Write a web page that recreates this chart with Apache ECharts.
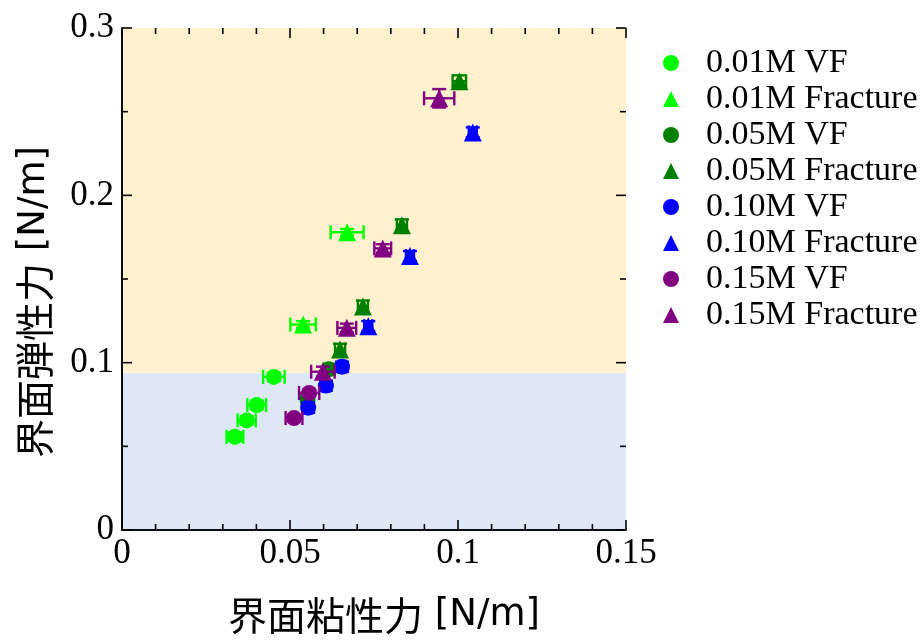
<!DOCTYPE html>
<html>
<head>
<meta charset="utf-8">
<script src="https://cdn.jsdelivr.net/npm/echarts@6/dist/echarts.min.js"></script>
<style>html,body{margin:0;padding:0;background:#fff;}#c{width:924px;height:641px;}</style>
</head>
<body>
<div id="c"></div>
<script>
// ---- data ----
const seriesNames = ['0.01M VF','0.01M Fracture','0.05M VF','0.05M Fracture','0.10M VF','0.10M Fracture','0.15M VF','0.15M Fracture'];
const seriesColors = ['#00FF00','#00FF00','#008000','#008000','#0000FF','#0000FF','#800080','#800080'];
const seriesSymbols = ['circle','triangle','circle','triangle','circle','triangle','circle','triangle'];

const x01VF = [0.0336, 0.0371, 0.0401, 0.0452];
const y01VF = [0.0557, 0.0655, 0.0747, 0.0915];
const xe01VF = [0.0025, 0.0027, 0.0028, 0.0032];
const ye01VF = [0.0025, 0.0025, 0.0025, 0.0025];

const x01F = [0.0539, 0.0670];
const y01F = [0.1228, 0.1779];
const xe01F = [0.0038, 0.0049];
const ye01F = [0.0020, 0.0020];

const x05VF = [0.0552, 0.0615];
const y05VF = [0.0780, 0.0960];
const xe05VF = [0.0015, 0.0015];
const ye05VF = [0.0025, 0.0025];

const x05F = [0.0649, 0.0717, 0.0833, 0.1004];
const y05F = [0.1078, 0.1336, 0.1821, 0.2682];
const xe05F = [0.0015, 0.0015, 0.0015, 0.0020];
const ye05F = [0.0035, 0.0035, 0.0035, 0.0035];

const x10VF = [0.0554, 0.0607, 0.0655];
const y10VF = [0.0731, 0.0863, 0.0976];
const xe10VF = [0.0012, 0.0012, 0.0012];
const ye10VF = [0.0030, 0.0030, 0.0030];

const x10F = [0.0733, 0.0857, 0.1044];
const y10F = [0.1218, 0.1637, 0.2376];
const xe10F = [0.0012, 0.0012, 0.0012];
const ye10F = [0.0030, 0.0030, 0.0030];

const x15VF = [0.0512, 0.0557];
const y15VF = [0.0669, 0.0819];
const xe15VF = [0.0025, 0.0030];
const ye15VF = [0.0020, 0.0020];

const x15F = [0.0598, 0.0669, 0.0776, 0.0944];
const y15F = [0.0946, 0.1208, 0.1683, 0.2580];
const xe15F = [0.0035, 0.0028, 0.0025, 0.0045];
const ye15F = [0.0030, 0.0025, 0.0025, 0.0055];

const xAll = [x01VF, x01F, x05VF, x05F, x10VF, x10F, x15VF, x15F];
const yAll = [y01VF, y01F, y05VF, y05F, y10VF, y10F, y15VF, y15F];
const xeAll = [xe01VF, xe01F, xe05VF, xe05F, xe10VF, xe10F, xe15VF, xe15F];
const yeAll = [ye01VF, ye01F, ye05VF, ye05F, ye10VF, ye10F, ye15VF, ye15F];

// tick values
const xMajorTicks = [0, 0.05, 0.1, 0.15];
const xMinorTicks = [0.01, 0.02, 0.03, 0.04, 0.06, 0.07, 0.08, 0.09, 0.11, 0.12, 0.13, 0.14];
const yMajorTicks = [0, 0.1, 0.2, 0.3];
const yMinorTicks = [0.05, 0.15, 0.25];

const blueBandTop = 0.094;
const xTitleCjk = '界面粘性力';
const yTitleCjk = '界面弾性力';
const unitText = ' [N/m]';

// ---- build ----
const chart = echarts.init(document.getElementById('c'));
const serif = 'Liberation Serif';
const cjk = 'Noto Sans CJK JP';

function errRender(color) {
  return function (params, api) {
    const x = api.value(0), y = api.value(1), xe = api.value(2), ye = api.value(3);
    const l = api.coord([x - xe, y]), r = api.coord([x + xe, y]);
    const t = api.coord([x, y + ye]), b = api.coord([x, y - ye]);
    const cap = 7;
    const st = { stroke: color, lineWidth: 2.4 };
    const ln = (x1, y1, x2, y2) => ({ type: 'line', shape: { x1, y1, x2, y2 }, style: st });
    return {
      type: 'group',
      children: [
        ln(l[0], l[1], r[0], r[1]),
        ln(l[0], l[1] - cap, l[0], l[1] + cap),
        ln(r[0], r[1] - cap, r[0], r[1] + cap),
        ln(t[0], t[1], b[0], b[1]),
        ln(t[0] - cap, t[1], t[0] + cap, t[1]),
        ln(b[0] - cap, b[1], b[0] + cap, b[1])
      ]
    };
  };
}

// inward tick marks drawn through the axis scales
const tickData = [];
xMajorTicks.forEach(v => tickData.push([v, 0, 0, 1]));
xMinorTicks.forEach(v => tickData.push([v, 0, 0, 0]));
yMajorTicks.forEach(v => tickData.push([0, v, 1, 1]));
yMinorTicks.forEach(v => tickData.push([0, v, 1, 0]));

function tickRender(params, api) {
  const cs = params.coordSys;
  const isY = api.value(2) === 1;
  const len = api.value(3) === 1 ? 10 : 6;
  const st = { stroke: '#000', lineWidth: 1.6 };
  if (!isY) {
    const px = api.coord([api.value(0), 0])[0];
    const y0 = cs.y + cs.height, y1 = cs.y;
    return { type: 'group', children: [
      { type: 'line', shape: { x1: px, y1: y0, x2: px, y2: y0 - len }, style: st },
      { type: 'line', shape: { x1: px, y1: y1, x2: px, y2: y1 + len }, style: st }
    ] };
  } else {
    const py = api.coord([0, api.value(1)])[1];
    const x0 = cs.x, x1 = cs.x + cs.width;
    return { type: 'group', children: [
      { type: 'line', shape: { x1: x0, y1: py, x2: x0 + len, y2: py }, style: st },
      { type: 'line', shape: { x1: x1, y1: py, x2: x1 - len, y2: py }, style: st }
    ] };
  }
}

const series = [{
  type: 'scatter',
  data: [],
  silent: true,
  z: 1,
  markArea: {
    silent: true,
    data: [
      [{ yAxis: 0, itemStyle: { color: '#DEE8F4' } }, { yAxis: blueBandTop }],
      [{ yAxis: blueBandTop, itemStyle: { color: '#FFF0CE' } }, { yAxis: 0.3 }]
    ]
  }
}, {
  type: 'custom',
  renderItem: tickRender,
  data: tickData,
  silent: true,
  clip: false,
  z: 2,
  encode: { x: 0, y: 1 }
}];
seriesNames.forEach((name, i) => {
  const pts = xAll[i].map((xv, k) => [xv, yAll[i][k], xeAll[i][k], yeAll[i][k]]);
  series.push({
    type: 'custom',
    renderItem: errRender(seriesColors[i]),
    data: pts,
    z: 4 + i * 2,
    silent: true,
    encode: { x: 0, y: 1 }
  });
  series.push({
    name: name,
    type: 'scatter',
    symbol: seriesSymbols[i],
    symbolSize: seriesSymbols[i] === 'circle' ? 16 : 18,
    itemStyle: { color: seriesColors[i], opacity: 1 },
    data: pts.map(p => [p[0], p[1]]),
    z: 5 + i * 2
  });
});

const axisLine = { show: true, lineStyle: { color: '#000', width: 1.6 } };
function mkX(pos, labels) {
  return {
    type: 'value', min: 0, max: 0.15, interval: 0.05, position: pos, z: 50,
    axisLine: axisLine,
    axisTick: { show: false },
    minorTick: { show: false },
    splitLine: { show: false }, minorSplitLine: { show: false },
    axisLabel: labels ? { fontFamily: serif, fontSize: 35, color: '#000', margin: 6 } : { show: false }
  };
}
function mkY(pos, labels) {
  return {
    type: 'value', min: 0, max: 0.3, interval: 0.1, position: pos, z: 50,
    axisLine: axisLine,
    axisTick: { show: false },
    minorTick: { show: false },
    splitLine: { show: false }, minorSplitLine: { show: false },
    axisLabel: labels ? { fontFamily: serif, fontSize: 35, color: '#000', margin: 8 } : { show: false }
  };
}

const titleRich = {
  a: { fontFamily: cjk, fontSize: 39, color: '#222' },
  b: { fontFamily: 'DejaVu Sans', fontSize: 37, color: '#222' }
};

const option = {
  animation: false,
  backgroundColor: '#fff',
  grid: { left: 122, top: 28, width: 504, height: 502 },
  legend: {
    data: seriesNames,
    orient: 'vertical',
    left: 658,
    top: 41,
    itemWidth: 16,
    itemHeight: 16,
    itemGap: 2,
    textStyle: { fontFamily: serif, fontSize: 34, color: '#000', lineHeight: 34, padding: [0, 0, 0, 22] }
  },
  xAxis: [mkX('bottom', true), mkX('top', false)],
  yAxis: [mkY('left', true), mkY('right', false)],
  graphic: [
    {
      type: 'text', x: 384, y: 615, z: 10,
      style: { text: '{a|' + xTitleCjk + '}{b|' + unitText + '}', rich: titleRich, align: 'center', verticalAlign: 'middle' }
    },
    {
      type: 'text', x: 34, y: 302, rotation: Math.PI / 2, z: 10,
      style: { text: '{a|' + yTitleCjk + '}{b|' + unitText + '}', rich: titleRich, align: 'center', verticalAlign: 'middle' }
    }
  ],
  series: series
};
chart.setOption(option);
</script>
</body>
</html>
